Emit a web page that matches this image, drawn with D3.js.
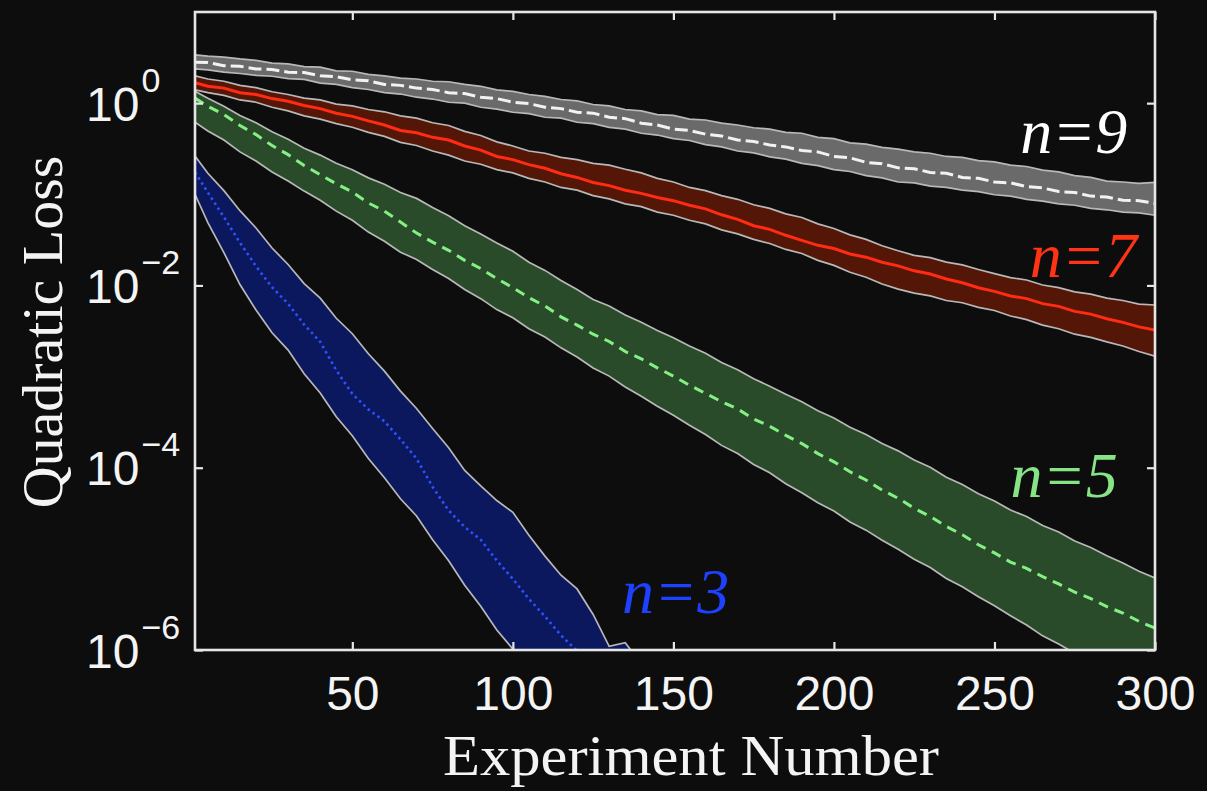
<!DOCTYPE html>
<html>
<head>
<meta charset="utf-8">
<script src="https://cdn.jsdelivr.net/npm/d3@7"></script>
<style>
  html, body { margin: 0; padding: 0; background: #0d0d0d; }
  svg { display: block; }
</style>
</head>
<body>
<svg id="chart" width="1207" height="791"></svg>
<script>
// Experiment index at which each sample was recorded
const experiments = [1,5,10,15,20,25,30,35,40,45,50,55,60,65,70,75,80,85,90,95,100,
  105,110,115,120,125,130,135,140,145,150,155,160,165,170,175,180,185,190,195,200,
  205,210,215,220,225,230,235,240,245,250,255,260,265,270,275,280,285,290,295,300];

// log10 of the quadratic loss: mean and upper / lower envelope, per model order n

// n = 9
const n9Mean = [0.45,0.445,0.41,0.405,0.375,0.37,0.34,0.335,0.30,0.29,0.255,0.245,0.205,0.195,0.165,0.15,
  0.115,0.105,0.065,0.05,0.01,-0.005,-0.045,-0.06,-0.10,-0.11,-0.155,-0.17,-0.22,-0.24,-0.285,
  -0.30,-0.34,-0.36,-0.405,-0.42,-0.46,-0.48,-0.52,-0.535,-0.585,-0.60,-0.65,-0.665,-0.71,
  -0.72,-0.76,-0.77,-0.815,-0.825,-0.865,-0.875,-0.915,-0.93,-0.97,-0.98,-1.02,-1.03,-1.065,-1.07,-1.10];
const n9Upper = [0.53,0.515,0.505,0.485,0.47,0.44,0.43,0.40,0.395,0.355,0.35,0.315,0.30,0.275,0.265,0.24,
  0.235,0.205,0.185,0.145,0.13,0.095,0.075,0.04,0.025,-0.015,-0.03,-0.07,-0.085,-0.125,-0.135,
  -0.175,-0.185,-0.22,-0.24,-0.27,-0.285,-0.32,-0.33,-0.375,-0.39,-0.435,-0.45,-0.485,-0.505,
  -0.535,-0.55,-0.585,-0.595,-0.63,-0.645,-0.68,-0.695,-0.735,-0.755,-0.795,-0.815,-0.855,-0.865,-0.88,-0.87];
const n9Lower = [0.375,0.365,0.34,0.325,0.305,0.295,0.27,0.26,0.22,0.205,0.17,0.15,0.115,0.10,0.065,0.045,
  0.01,0.0,-0.045,-0.065,-0.10,-0.115,-0.155,-0.165,-0.21,-0.225,-0.265,-0.285,-0.33,-0.35,-0.39,
  -0.41,-0.455,-0.48,-0.525,-0.545,-0.59,-0.615,-0.66,-0.685,-0.73,-0.75,-0.795,-0.82,-0.865,
  -0.875,-0.91,-0.925,-0.955,-0.97,-1.005,-1.02,-1.055,-1.075,-1.105,-1.12,-1.155,-1.17,-1.195,-1.205,-1.23];

// n = 7
const n7Mean = [0.225,0.185,0.165,0.115,0.095,0.05,0.02,-0.025,-0.06,-0.11,-0.145,-0.195,-0.24,-0.30,-0.325,-0.375,
  -0.405,-0.47,-0.515,-0.585,-0.62,-0.675,-0.715,-0.775,-0.815,-0.87,-0.905,-0.955,-0.99,-1.035,-1.07,
  -1.12,-1.16,-1.225,-1.275,-1.345,-1.385,-1.45,-1.505,-1.56,-1.595,-1.655,-1.69,-1.745,-1.785,
  -1.84,-1.875,-1.93,-1.97,-2.025,-2.065,-2.115,-2.145,-2.20,-2.23,-2.285,-2.315,-2.365,-2.405,-2.455,-2.49];
const n7Upper = [0.30,0.265,0.24,0.195,0.17,0.125,0.095,0.055,0.035,-0.01,-0.03,-0.07,-0.095,-0.14,-0.165,-0.215,
  -0.245,-0.31,-0.355,-0.425,-0.47,-0.525,-0.55,-0.595,-0.62,-0.66,-0.68,-0.725,-0.765,-0.825,-0.865,
  -0.925,-0.96,-1.015,-1.055,-1.115,-1.155,-1.215,-1.255,-1.325,-1.375,-1.445,-1.495,-1.565,-1.62,
  -1.67,-1.695,-1.745,-1.775,-1.825,-1.87,-1.915,-1.94,-1.995,-2.025,-2.07,-2.095,-2.14,-2.165,-2.205,-2.215];
const n7Lower = [0.145,0.115,0.085,0.035,0.01,-0.045,-0.085,-0.14,-0.175,-0.225,-0.265,-0.32,-0.365,-0.43,-0.465,-0.525,
  -0.57,-0.635,-0.67,-0.73,-0.765,-0.825,-0.865,-0.925,-0.955,-1.015,-1.05,-1.105,-1.135,-1.195,-1.23,
  -1.285,-1.325,-1.39,-1.435,-1.495,-1.54,-1.605,-1.65,-1.725,-1.78,-1.855,-1.91,-1.985,-2.04,
  -2.085,-2.115,-2.165,-2.19,-2.24,-2.275,-2.335,-2.375,-2.435,-2.475,-2.535,-2.57,-2.62,-2.665,-2.725,-2.775];

// n = 5
const n5Mean = [0.055,-0.035,-0.125,-0.245,-0.345,-0.465,-0.565,-0.685,-0.785,-0.885,-0.975,-1.095,-1.185,-1.305,-1.425,-1.525,
  -1.615,-1.725,-1.815,-1.925,-2.025,-2.135,-2.225,-2.345,-2.435,-2.535,-2.615,-2.725,-2.805,-2.905,-2.995,
  -3.095,-3.185,-3.275,-3.355,-3.465,-3.545,-3.645,-3.735,-3.845,-3.935,-4.045,-4.135,-4.245,-4.335,
  -4.445,-4.535,-4.645,-4.735,-4.845,-4.935,-5.035,-5.105,-5.195,-5.275,-5.365,-5.435,-5.525,-5.595,-5.685,-5.76];
const n5Upper = [0.13,0.055,-0.035,-0.135,-0.215,-0.315,-0.395,-0.495,-0.57,-0.66,-0.73,-0.82,-0.89,-0.98,-1.045,-1.145,
  -1.235,-1.345,-1.435,-1.535,-1.625,-1.745,-1.835,-1.945,-2.045,-2.155,-2.225,-2.325,-2.405,-2.495,-2.575,
  -2.665,-2.745,-2.845,-2.925,-3.025,-3.105,-3.195,-3.275,-3.375,-3.455,-3.555,-3.635,-3.735,-3.815,
  -3.915,-3.995,-4.105,-4.185,-4.285,-4.365,-4.465,-4.535,-4.635,-4.705,-4.805,-4.875,-4.965,-5.045,-5.135,-5.21];
const n5Lower = [-0.21,-0.305,-0.405,-0.535,-0.635,-0.755,-0.855,-0.965,-1.065,-1.185,-1.285,-1.415,-1.515,-1.635,-1.715,-1.825,
  -1.925,-2.045,-2.145,-2.265,-2.355,-2.475,-2.565,-2.685,-2.785,-2.905,-2.995,-3.115,-3.215,-3.325,-3.425,
  -3.535,-3.635,-3.755,-3.845,-3.965,-4.055,-4.175,-4.275,-4.385,-4.475,-4.595,-4.685,-4.795,-4.895,
  -5.005,-5.095,-5.215,-5.305,-5.415,-5.515,-5.625,-5.725,-5.845,-5.935,-6.035,-6.105,-6.165,-6.205,-6.265,-6.31];

// n = 3 (recorded until the loss has dropped below the axis floor)
const n3Mean = [-0.76,-0.98,-1.25,-1.53,-1.79,-2.02,-2.20,-2.43,-2.62,-2.93,-3.19,-3.36,-3.49,-3.69,-3.90,-4.21,
  -4.47,-4.65,-4.79,-5.02,-5.22,-5.44,-5.63,-5.84,-6.01,-6.20,-6.40,-6.60,-6.80,-7.00];
const n3Upper = [-0.58,-0.77,-0.96,-1.18,-1.37,-1.59,-1.77,-1.98,-2.14,-2.36,-2.53,-2.75,-2.94,-3.16,-3.35,-3.57,
  -3.78,-4.03,-4.20,-4.36,-4.49,-4.74,-4.97,-5.18,-5.33,-5.61,-5.96,-5.92,-6.15,-6.60];
const n3Lower = [-1.00,-1.31,-1.64,-1.99,-2.27,-2.52,-2.71,-2.97,-3.18,-3.44,-3.65,-3.90,-4.11,-4.34,-4.53,-4.79,
  -5.02,-5.29,-5.52,-5.78,-5.99,-6.25,-6.50,-6.75,-7.00,-7.20,-7.40,-7.60,-7.80,-8.00];

const seriesNames = ["n=9", "n=7", "n=5", "n=3"];
const xTickValues = [50, 100, 150, 200, 250, 300];
const yTickExponents = [-6, -4, -2, 0];

// Styling per series
const styles = {
  "n=9": { fill: "#6a6a6a", line: "#f2f2f2", dash: "13,5",    width: 3,   text: "#ffffff", at: [258, -0.55] },
  "n=7": { fill: "#541607", line: "#ff2b12", dash: null,      width: 3,   text: "#ff3414", at: [261, -1.91] },
  "n=5": { fill: "#2a4b29", line: "#84f084", dash: "10,7",    width: 3,   text: "#86e486", at: [255, -4.32] },
  "n=3": { fill: "#0b185e", line: "#2f50ff", dash: "2.5,3.5", width: 2.6, text: "#1e40ff", at: [134, -5.59] }
};

const valueSets = {
  "n=9": [n9Mean, n9Upper, n9Lower],
  "n=7": [n7Mean, n7Upper, n7Lower],
  "n=5": [n5Mean, n5Upper, n5Lower],
  "n=3": [n3Mean, n3Upper, n3Lower]
};

const series = seriesNames.map(name => {
  const [mean, upper, lower] = valueSets[name];
  return {
    name,
    points: mean.map((m, i) => ({
      e: experiments[i],
      mean: Math.pow(10, m),
      upper: Math.pow(10, upper[i]),
      lower: Math.pow(10, lower[i])
    }))
  };
});

const svg = d3.select("#chart");
const W = 1207, H = 791;
const plot = { left: 195, right: 1155, top: 12, bottom: 650 };

svg.append("rect").attr("width", W).attr("height", H).attr("fill", "#0d0d0d");

const x = d3.scaleLinear().domain([1, 300]).range([plot.left, plot.right]);
const y = d3.scaleLog().domain([1e-6, 10]).range([plot.bottom, plot.top]);

svg.append("defs").append("clipPath").attr("id", "plotClip")
  .append("rect")
  .attr("x", plot.left).attr("y", plot.top)
  .attr("width", plot.right - plot.left).attr("height", plot.bottom - plot.top);

const area = d3.area().x(d => x(d.e)).y0(d => y(d.lower)).y1(d => y(d.upper));
const upperLine = d3.line().x(d => x(d.e)).y(d => y(d.upper));
const lowerLine = d3.line().x(d => x(d.e)).y(d => y(d.lower));
const meanLine = d3.line().x(d => x(d.e)).y(d => y(d.mean));

const gData = svg.append("g").attr("clip-path", "url(#plotClip)");

// Draw lower orders first so the higher ones sit on top
series.slice().reverse().forEach(s => {
  const st = styles[s.name];
  const g = gData.append("g");
  g.append("path").datum(s.points).attr("d", area).attr("fill", st.fill);
  g.append("path").datum(s.points).attr("d", upperLine)
    .attr("fill", "none").attr("stroke", "#b8b8b8").attr("stroke-width", 1.7);
  g.append("path").datum(s.points).attr("d", lowerLine)
    .attr("fill", "none").attr("stroke", "#b8b8b8").attr("stroke-width", 1.7);
  g.append("path").datum(s.points).attr("d", meanLine)
    .attr("fill", "none").attr("stroke", st.line).attr("stroke-width", st.width)
    .attr("stroke-dasharray", st.dash);
});

// Axes
const axisColor = "#e6e6e6";
const yTicks = yTickExponents.map(p => Math.pow(10, p));

const gx = svg.append("g").attr("transform", `translate(0,${plot.bottom})`)
  .call(d3.axisBottom(x).tickValues(xTickValues).tickSizeInner(-8).tickSizeOuter(0).tickPadding(26));
const gxTop = svg.append("g").attr("transform", `translate(0,${plot.top})`)
  .call(d3.axisTop(x).tickValues(xTickValues).tickSizeInner(-8).tickSizeOuter(0).tickFormat(""));
const gy = svg.append("g").attr("transform", `translate(${plot.left},0)`)
  .call(d3.axisLeft(y).tickValues(yTicks).tickSizeInner(-8).tickSizeOuter(0).tickFormat(""));
const gyRight = svg.append("g").attr("transform", `translate(${plot.right},0)`)
  .call(d3.axisRight(y).tickValues(yTicks).tickSizeInner(-8).tickSizeOuter(0).tickFormat(""));

[gx, gxTop, gy, gyRight].forEach(g => {
  g.select(".domain").remove();
  g.selectAll(".tick line").attr("stroke", axisColor).attr("stroke-width", 2.2);
});

gx.selectAll(".tick text")
  .attr("fill", "#f4f4f4")
  .attr("font-family", "'Liberation Sans', Arial, sans-serif")
  .attr("font-size", 48);

// y tick labels as 10 with a superscript exponent
gy.selectAll(".tick").each(function(d) {
  const p = Math.round(Math.log10(d));
  const t = d3.select(this).append("text")
    .attr("x", 86 - plot.left)
    .attr("y", 17)
    .attr("fill", "#f4f4f4")
    .attr("text-anchor", "start")
    .attr("font-family", "'Liberation Sans', Arial, sans-serif")
    .attr("font-size", 48);
  t.append("tspan").text("10");
  t.append("tspan").attr("dy", -29).attr("dx", 2).attr("font-size", 34)
    .text(p < 0 ? "\u2212" + Math.abs(p) : String(p));
});

// Frame
svg.append("rect")
  .attr("x", plot.left).attr("y", plot.top)
  .attr("width", plot.right - plot.left).attr("height", plot.bottom - plot.top)
  .attr("fill", "none").attr("stroke", axisColor).attr("stroke-width", 2.6);

// Axis titles
svg.append("text")
  .attr("x", 691).attr("y", 775)
  .attr("text-anchor", "middle")
  .attr("fill", "#f4f4f4")
  .attr("font-family", "'Liberation Serif', 'Times New Roman', serif")
  .attr("font-size", 57)
  .attr("textLength", 496)
  .attr("lengthAdjust", "spacingAndGlyphs")
  .text("Experiment Number");

svg.append("text")
  .attr("transform", "translate(62,332) rotate(-90)")
  .attr("text-anchor", "middle")
  .attr("fill", "#f4f4f4")
  .attr("font-family", "'Liberation Serif', 'Times New Roman', serif")
  .attr("font-size", 58)
  .text("Quadratic Loss");

// Series labels
series.forEach(s => {
  const st = styles[s.name];
  svg.append("text")
    .attr("x", x(st.at[0])).attr("y", y(Math.pow(10, st.at[1])))
    .attr("fill", st.text)
    .attr("font-family", "'Liberation Serif', 'Times New Roman', serif")
    .attr("font-style", "italic")
    .attr("font-size", 64)
    .text(s.name);
});
</script>
</body>
</html>
